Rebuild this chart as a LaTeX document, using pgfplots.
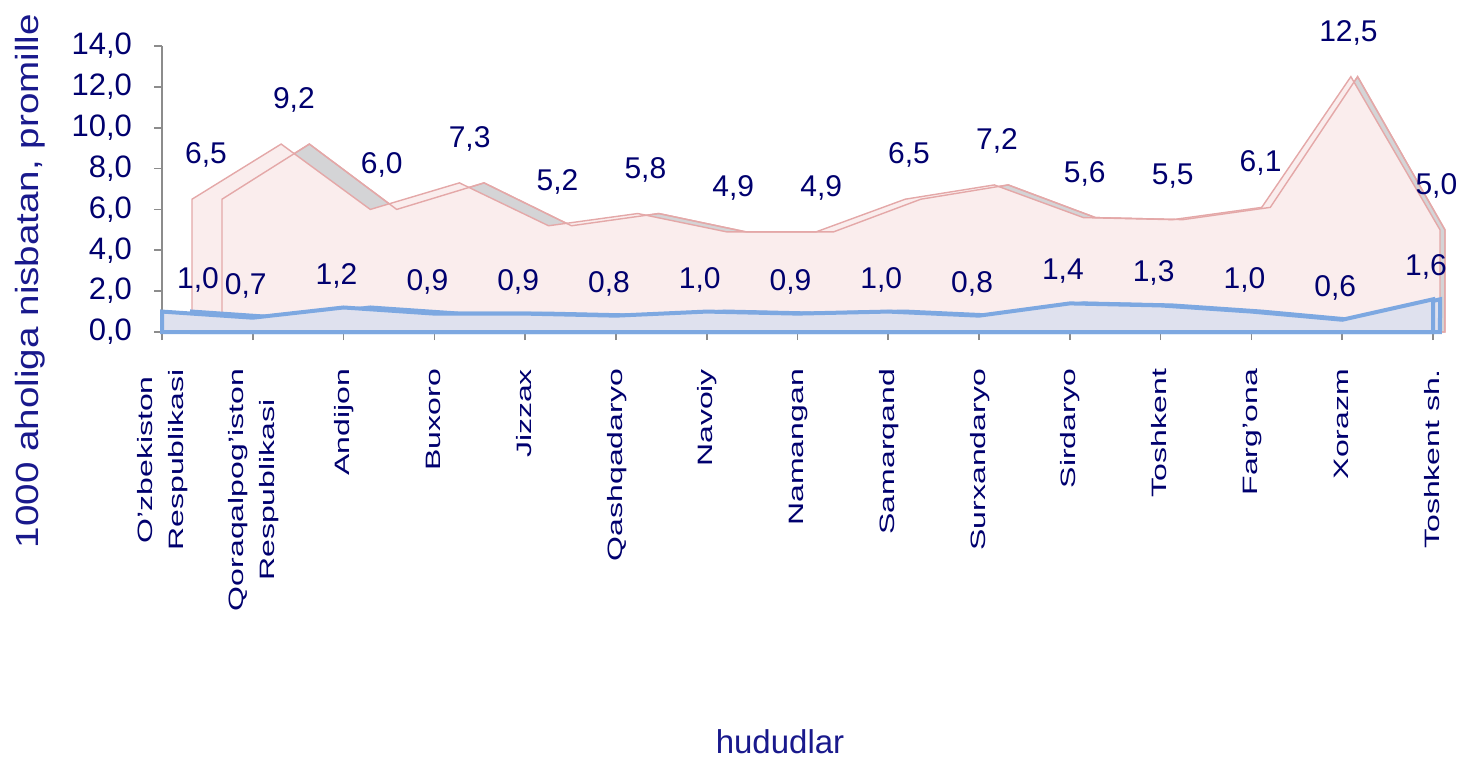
\documentclass[border=0pt]{standalone}
\usepackage{pgfplots}
\pgfplotsset{compat=1.18}
\usepackage{pgfplotstable}
\usepackage{fontspec}
\setmainfont{Liberation Sans}
\usepackage{graphicx}
\definecolor{navy}{RGB}{0,0,110}
\definecolor{titleblue}{RGB}{25,25,140}
\definecolor{pinkfill}{RGB}{250,237,237}
\definecolor{pinkedge}{RGB}{228,168,168}
\definecolor{grayface}{RGB}{212,212,214}
\definecolor{blueline}{RGB}{125,168,225}
\definecolor{bluefill}{RGB}{223,225,238}
\definecolor{axisgray}{RGB}{140,140,140}

\pgfplotstableread{
x pink blue
0 6.5 1.0
1 9.2 0.7
2 6.0 1.2
3 7.3 0.9
4 5.2 0.9
5 5.8 0.8
6 4.9 1.0
7 4.9 0.9
8 6.5 1.0
9 7.2 0.8
10 5.6 1.4
11 5.5 1.3
12 6.1 1.0
13 12.5 0.6
14 5.0 1.6
}\data

\renewcommand{\arraystretch}{1.3}
\newcommand{\cat}[1]{\scalebox{1}[0.65]{\begin{tabular}{@{}c@{}}#1\end{tabular}}}

\begin{document}
\begin{tikzpicture}
\useasboundingbox (-81pt,-213.5pt) rectangle (654pt,166pt);
\begin{axis}[
  at={(0,0)}, anchor=south west,
  scale only axis, width=635.5pt, height=143pt,
  xmin=0, xmax=14, ymin=0, ymax=14,
  clip=false,
  axis x line*=bottom, axis y line*=left,
  axis line style={axisgray, line width=0.8pt},
  tick style={axisgray, line width=0.8pt},
  tick align=outside, major tick length=4pt,
  /pgf/number format/assume math mode=true,
  xtick={0,...,14},
  xticklabels={\cat{O'zbekiston\\Respublikasi},\cat{Qoraqalpog'iston\\Respublikasi},\cat{Andijon},\cat{Buxoro},\cat{Jizzax},\cat{Qashqadaryo},\cat{Navoiy},\cat{Namangan},\cat{Samarqand},\cat{Surxandaryo},\cat{Sirdaryo},\cat{Toshkent},\cat{Farg'ona},\cat{Xorazm},\cat{Toshkent sh.}},
  xticklabel style={yshift=-11pt, rotate=90, anchor=east, font=\fontsize{16}{18}\selectfont, text=navy},
  ytick={0,2,...,14},
  yticklabel style={/pgf/number format/.cd, fixed, fixed zerofill, precision=1, use comma, /tikz/.cd, xshift=-7.5pt, font=\fontsize{15.5}{18}\selectfont, text=navy},
  mylabel/.style={draw=none, mark=none, nodes near coords={\pgfmathprintnumber[fixed,fixed zerofill,precision=1,use comma]{\pgfplotspointmeta}}, point meta=explicit, every node near coord/.append style={anchor=center, font=\fontsize{15}{18}\selectfont, text=navy}},
]
% pink series (back row)
\addplot[draw=pinkedge, fill=grayface, line width=0.7pt, xshift=30pt, xscale=0.9622] table[x=x,y=pink]{\data} \closedcycle;
\addplot[draw=pinkedge, fill=pinkfill, line width=0.7pt, xshift=15pt, xscale=0.9819] table[x=x,y=pink]{\data} \closedcycle;
\addplot[draw=pinkedge, line width=0.7pt, xshift=30pt, xscale=0.9622] table[x=x,y=pink]{\data} \closedcycle;
% blue series (front row)
\addplot[draw=blueline, fill=bluefill, line width=2pt, xshift=15pt, xscale=0.9819] table[x=x,y=blue]{\data} \closedcycle;
\addplot[draw=blueline, fill=bluefill, line width=2pt] table[x=x,y=blue]{\data} \closedcycle;
\draw[blueline, line width=2.4pt] (axis cs:0,0) -- (axis cs:14,0) -- ++(3.5pt,0);
% labels
\addplot[mylabel, xshift=22pt, xscale=0.968, every node near coord/.append style={yshift=22pt}] table[x=x,y=pink,meta=pink]{\data};
\addplot[mylabel, skip coords between index={1}{15}, every node near coord/.append style={xshift=18pt, yshift=16pt}] table[x=x,y=blue,meta=blue]{\data};
\addplot[mylabel, skip coords between index={0}{1}, every node near coord/.append style={xshift=-3.5pt, yshift=16pt}] table[x=x,y=blue,meta=blue]{\data};
\end{axis}
\node[rotate=90, text=titleblue, font=\fontsize{19.3}{22}\selectfont] at (-66pt,25.5pt) {\scalebox{1}[0.83]{1000 aholiga nisbatan, promille}};
\node[text=titleblue, font=\fontsize{16.5}{20}\selectfont] at (309pt,-205pt) {hududlar};
\end{tikzpicture}
\end{document}
